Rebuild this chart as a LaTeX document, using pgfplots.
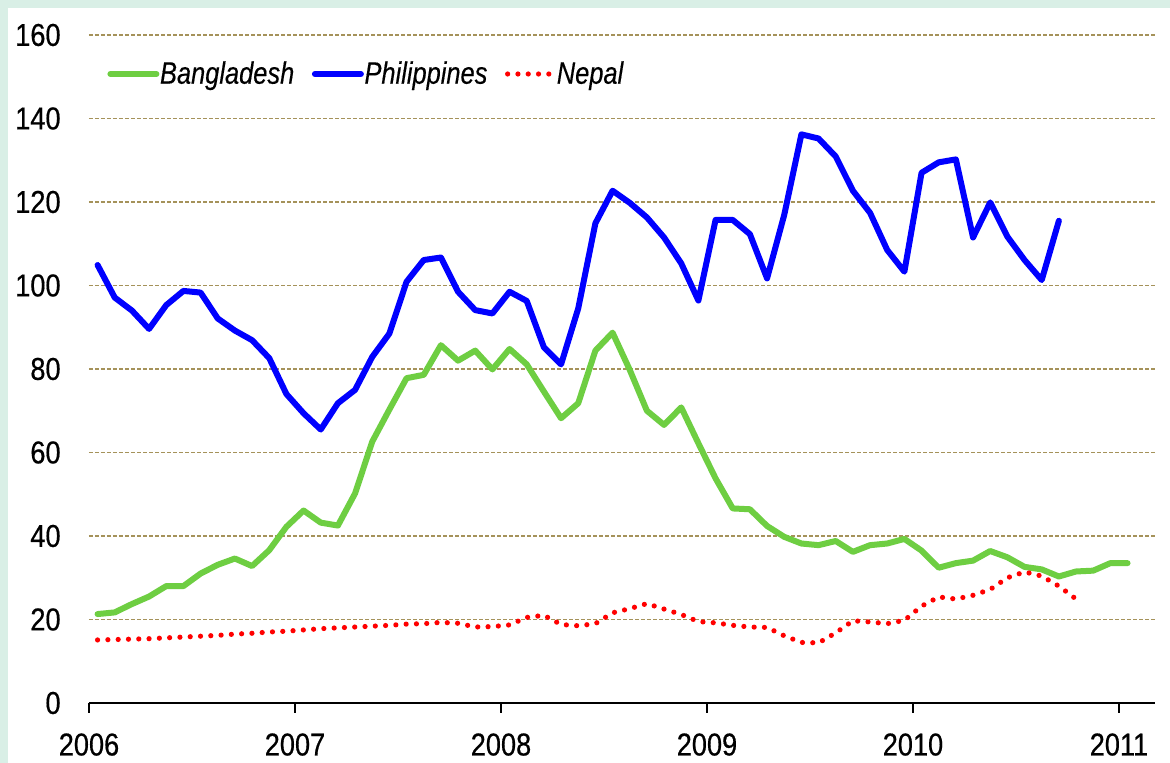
\documentclass[border=0pt]{standalone}
\usepackage{pgfplots}
\pgfplotsset{compat=1.18}
\usepackage{pgfplotstable}
\usepackage{fontspec}
\setmainfont{Liberation Sans}[FakeStretch=0.86, FakeBold=0.5]
\newfontfamily\legfont{Liberation Sans}[FakeStretch=0.82, FakeBold=0.3]
\definecolor{mint}{RGB}{217,239,230}
\definecolor{bgreen}{RGB}{110,206,66}
\definecolor{gridc}{RGB}{165,146,90}

\pgfplotstableread{
i v
0 21.3
1 21.7
2 23.7
3 25.5
4 28.0
5 28.0
6 31.0
7 33.1
8 34.6
9 32.8
10 36.6
11 42.2
12 46.1
13 43.2
14 42.5
15 50.2
16 62.6
17 70.3
18 77.8
19 78.6
20 85.7
21 82.0
22 84.4
23 79.9
24 84.8
25 81.1
26 74.6
27 68.2
28 71.8
29 84.4
30 88.7
31 79.8
32 70.0
33 66.6
34 70.8
35 62.2
36 53.8
37 46.6
38 46.4
39 42.4
40 39.8
41 38.2
42 37.8
43 38.8
44 36.2
45 37.8
46 38.2
47 39.3
48 36.5
49 32.4
50 33.5
51 34.1
52 36.4
53 34.9
54 32.6
55 32.0
56 30.3
57 31.5
58 31.7
59 33.5
60 33.5
}\bangla

\pgfplotstableread{
i v
0 104.9
1 97.1
2 94.0
3 89.6
4 95.3
5 98.7
6 98.3
7 92.1
8 89.2
9 86.9
10 82.6
11 74.0
12 69.4
13 65.5
14 71.8
15 75.0
16 82.9
17 88.5
18 100.9
19 106.1
20 106.7
21 98.5
22 94.1
23 93.3
24 98.5
25 96.3
26 85.2
27 81.1
28 94.5
29 114.9
30 122.7
31 119.8
32 116.3
33 111.5
34 105.3
35 96.4
36 115.7
37 115.7
38 112.3
39 101.7
40 116.9
41 136.2
42 135.2
43 130.9
44 122.7
45 117.4
46 108.5
47 103.3
48 127.0
49 129.5
50 130.2
51 111.5
52 119.9
53 111.7
54 106.1
55 101.3
56 115.5
}\phil

\pgfplotstableread{
i v
0 15.1
1 15.2
2 15.3
3 15.4
4 15.6
5 15.8
6 16.0
7 16.2
8 16.5
9 16.7
10 17.0
11 17.2
12 17.5
13 17.8
14 18.0
15 18.2
16 18.4
17 18.6
18 18.9
19 19.0
20 19.3
21 19.1
22 18.2
23 18.3
24 18.7
25 20.5
26 21.0
27 18.8
28 18.5
29 19.0
30 21.6
31 22.6
32 23.8
33 22.5
34 21.2
35 19.5
36 19.2
37 18.6
38 18.2
39 18.1
40 16.1
41 14.5
42 14.4
43 16.8
44 19.7
45 19.4
46 19.0
47 19.8
48 23.2
49 25.4
50 24.9
51 25.8
52 27.2
53 30.0
54 31.4
55 30.4
56 28.0
57 24.9
}\nepal

\begin{document}
\begin{tikzpicture}
\fill[mint] (-44.5pt,-30pt) rectangle (540.5pt,351.5pt);
\fill[white] (-40.5pt,-30pt) rectangle (540.5pt,347.5pt);
\begin{axis}[
  scale only axis, width=533pt, height=334pt,
  xmin=-0.5, xmax=61.6, ymin=0, ymax=160,
  axis x line*=bottom, axis y line*=left,
  x axis line style={-, line width=1pt, black},
  y axis line style={draw=none},
  xtick={-0.5,11.5,23.5,35.5,47.5,59.5},
  xticklabels={2006,2007,2008,2009,2010,2011},
  ytick={0,20,40,60,80,100,120,140,160},
  tick align=outside,
  major tick length=5pt,
  x tick style={black, line width=1pt},
  y tick style={draw=none},
  ymajorgrids,
  grid style={gridc, line width=0.7pt, dash pattern=on 2pt off 1pt},
  /pgf/number format/assume math mode=true,
  tick label style={font=\fontsize{15.8}{18}\selectfont},
  xticklabel style={anchor=north, inner sep=0pt, yshift=-10pt},
  yticklabel style={anchor=east, inner sep=0pt, xshift=-9pt},
  legend columns=3,
  legend cell align=left,
  legend style={draw=none, fill=none, inner sep=0pt,
    at={(0.0169,0.9416)}, anchor=west,
    font=\fontsize{15.5}{18}\selectfont\legfont\itshape,
    nodes={inner sep=0.3pt},
    /tikz/every even column/.append style={column sep=8.5pt}},
  legend image code/.code={\draw[#1, line cap=round] (0pt,0pt) -- (23pt,0pt);},
]
\addplot[bgreen, line width=3pt, line join=round, line cap=round] table[x=i,y=v] {\bangla};
\addlegendentry{Bangladesh}
\addplot[blue, line width=3pt, line join=round, line cap=round] table[x=i,y=v] {\phil};
\addlegendentry{Philippines}
\addplot[red, line width=2.6pt, line cap=round, dash pattern=on 0pt off 5.15pt] table[x=i,y=v] {\nepal};
\addlegendentry{Nepal}
\end{axis}
\pgfresetboundingbox
\useasboundingbox (-44.5pt,-30pt) rectangle (540.5pt,351.5pt);
\end{tikzpicture}
\end{document}
